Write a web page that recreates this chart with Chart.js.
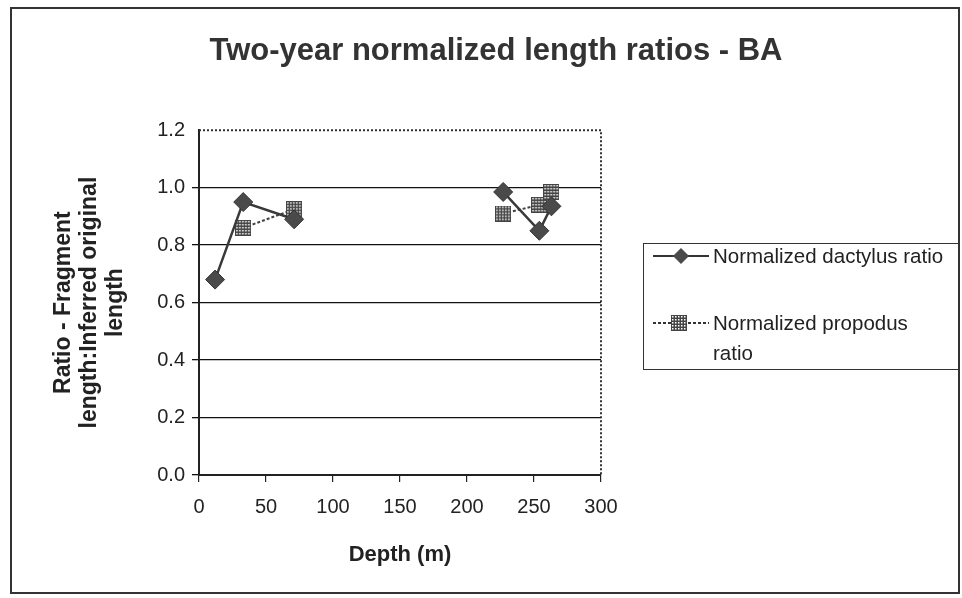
<!DOCTYPE html>
<html>
<head>
<meta charset="utf-8">
<script src="https://cdn.jsdelivr.net/npm/chart.js@4"></script>
<style>
  html, body { margin: 0; padding: 0; background: #fff; }
  #wrap { position: relative; width: 962px; height: 598px; }
  #frame { position: absolute; left: 10px; top: 7px; width: 946px; height: 583px; border: 2px solid #333; }
  #chart { position: absolute; left: 0; top: 0; }
  #legend {
    position: absolute; left: 643px; top: 243px; width: 314px; height: 125px;
    border: 1.5px solid #333; background: #fff;
    font-family: "Liberation Sans", Arial, sans-serif; font-size: 20.5px; color: #222;
  }
  .item { position: absolute; left: 8px; display: flex; align-items: flex-start; }
  .item canvas { display: block; margin-right: 3px; }
  .item span { line-height: 30px; }
</style>
</head>
<body>
<div id="wrap">
  <div id="frame"></div>
  <canvas id="chart" width="962" height="598"></canvas>
  <div id="legend">
    <div class="item" style="top:-3px"><canvas id="s0" width="58" height="30"></canvas><span>Normalized dactylus ratio</span></div>
    <div class="item" style="top:64px"><canvas id="s1" width="58" height="30"></canvas><span>Normalized propodus<br>ratio</span></div>
  </div>
</div>
<script>
// values
const depths = [12, 33, 71, 227, 254, 263];
const dactylus = [0.68, 0.95, 0.89, 0.985, 0.85, 0.935];
const propodus = [null, 0.86, 0.925, 0.91, 0.94, 0.985];
const seriesNames = ['Normalized dactylus ratio', 'Normalized propodus ratio'];
const yTicks = [0, 0.2, 0.4, 0.6, 0.8, 1.0, 1.2];
const xTicks = [0, 50, 100, 150, 200, 250, 300];
const firstDeepIndex = 3; // no line joins the shallow and the deep stations

const FONT = '"Liberation Sans", Arial, Helvetica, sans-serif';

// checkered square marker
function makeChecker(size) {
  const c = document.createElement('canvas');
  c.width = size; c.height = size;
  const g = c.getContext('2d');
  g.fillStyle = '#444';
  g.fillRect(0, 0, size, size);
  g.fillStyle = '#fff';
  for (let i = 1; i < size - 1; i += 3) {
    for (let j = 1; j < size - 1; j += 3) {
      g.fillRect(i, j, 1.5, 1.5);
    }
  }
  return c;
}
const checker = makeChecker(16);

function points(vals) {
  return depths.map((d, i) => ({ x: d, y: vals[i] }));
}
const hideGap = ctx => ctx.p1DataIndex === firstDeepIndex ? 'transparent' : undefined;

// dotted top and right edge of the plot
const dottedBox = {
  id: 'dottedBox',
  afterDatasetsDraw(chart) {
    const { ctx, chartArea: a } = chart;
    ctx.save();
    ctx.strokeStyle = '#333';
    ctx.lineWidth = 2;
    ctx.setLineDash([2, 2]);
    ctx.beginPath();
    ctx.moveTo(a.left, a.top);
    ctx.lineTo(a.right, a.top);
    ctx.lineTo(a.right, a.bottom);
    ctx.stroke();
    ctx.restore();
  }
};

new Chart(document.getElementById('chart'), {
  type: 'line',
  data: {
    datasets: [{
      label: seriesNames[0],
      data: points(dactylus),
      borderColor: '#3a3a3a',
      borderWidth: 2.5,
      pointStyle: 'rectRot',
      pointRadius: 9.5,
      pointBackgroundColor: '#4a4a4a',
      pointBorderColor: '#333',
      pointBorderWidth: 1,
      segment: { borderColor: hideGap }
    }, {
      label: seriesNames[1],
      data: points(propodus),
      borderColor: '#444',
      borderWidth: 2,
      borderDash: [3, 2],
      pointStyle: checker,
      spanGaps: false,
      segment: { borderColor: hideGap }
    }]
  },
  plugins: [dottedBox],
  options: {
    responsive: false,
    animation: false,
    layout: { padding: { left: 30, right: 0, top: 0, bottom: 0 } },
    plugins: {
      legend: { display: false },
      tooltip: { enabled: false },
      title: {
        display: true,
        text: 'Two-year normalized length ratios - BA',
        color: '#333',
        font: { family: FONT, size: 31, weight: 'bold', lineHeight: 1.2 },
        padding: { top: 33, bottom: 60 }
      }
    },
    scales: {
      x: {
        type: 'linear',
        min: 0, max: 300,
        afterBuildTicks: s => { s.ticks = xTicks.map(v => ({ value: v })); },
        afterFit: s => { s.height = 123; },
        ticks: { color: '#222', padding: 13, font: { family: FONT, size: 20 } },
        grid: { drawOnChartArea: false, drawTicks: true, tickLength: 7, color: '#222', lineWidth: 1.2 },
        border: { color: '#222', width: 2 },
        title: {
          display: true, text: 'Depth (m)', color: '#222',
          font: { family: FONT, size: 22, weight: 'bold', lineHeight: 1.2 },
          padding: { top: 0, bottom: 30 }
        }
      },
      y: {
        min: 0, max: 1.2,
        afterBuildTicks: s => { s.ticks = yTicks.map(v => ({ value: v })); },
        afterFit: s => { s.width = 169; },
        ticks: { color: '#222', padding: 7, font: { family: FONT, size: 20 }, callback: v => v.toFixed(1) },
        grid: {
          color: c => (c.tick && c.tick.value === 1.2) ? 'transparent' : '#111',
          lineWidth: 1.3, tickLength: 7
        },
        border: { color: '#222', width: 2 },
        title: {
          display: true,
          text: ['Ratio - Fragment', 'length:Inferred original', 'length'],
          color: '#222',
          font: { family: FONT, size: 23, weight: 'bold', lineHeight: 1.15 },
          padding: { top: 20, bottom: 0 }
        }
      },
      spacer: {
        position: 'right',
        display: true,
        afterFit: s => { s.width = 361; },
        ticks: { display: false },
        grid: { display: false },
        border: { display: false }
      }
    }
  }
});

// legend samples
function sample(id, ds) {
  const g = document.getElementById(id).getContext('2d');
  g.strokeStyle = '#333';
  g.lineWidth = 2;
  if (ds === 1) g.setLineDash([3, 2]);
  g.beginPath();
  g.moveTo(1, 15); g.lineTo(57, 15);
  g.stroke();
  g.setLineDash([]);
  if (ds === 0) {
    g.fillStyle = '#4a4a4a';
    g.beginPath();
    g.moveTo(29, 7); g.lineTo(37, 15); g.lineTo(29, 23); g.lineTo(21, 15);
    g.closePath(); g.fill();
  } else {
    g.drawImage(checker, 19, 7);
  }
}
sample('s0', 0);
sample('s1', 1);
</script>
</body>
</html>
